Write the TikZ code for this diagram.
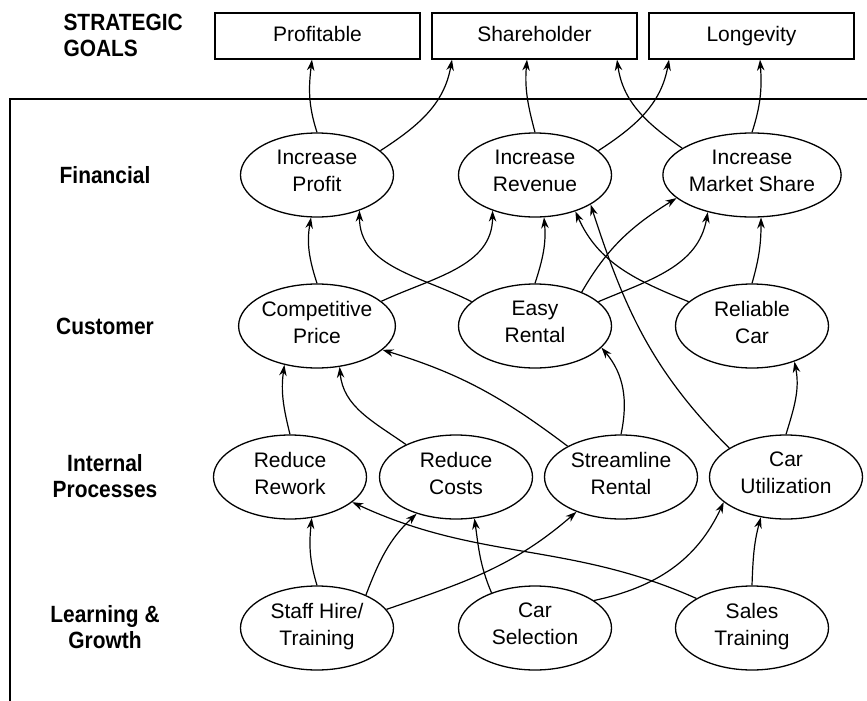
\documentclass[tikz,border=0pt]{standalone}
\usepackage{fontspec}
\setmainfont{Liberation Sans}
\newfontfamily\lanefont[FakeStretch=0.89]{Liberation Sans}
\usetikzlibrary{shapes.geometric,arrows.meta}

\tikzset{
  goal/.style={draw,line width=1.3pt,minimum width=205pt,minimum height=46pt,inner sep=0pt,font=\fontsize{21}{27}\selectfont,text height=15.5pt,text depth=4.5pt},
  aim/.style={draw,ellipse,line width=1.3pt,minimum width=153pt,minimum height=84pt,inner sep=0pt,align=center,font=\fontsize{21}{27}\selectfont,execute at begin node=\strut,execute at end node=\strut},
  lane/.style={align=center,font=\lanefont\bfseries\fontsize{23.5}{26}\selectfont,execute at begin node=\strut,execute at end node=\strut},
  link/.style={line width=1.2pt,-{Stealth[length=11pt,width=7.5pt,inset=3.5pt]}}
}

\begin{document}
\begin{tikzpicture}[x=1pt,y=1pt]
\useasboundingbox (0,0) rectangle (867,-701);

% frame
\draw[line width=1.3pt] (10,-701) -- (10,-99) -- (867,-99);

% row labels
\node[lane,align=left,anchor=west] (sg) at (60,-39) {STRATEGIC\\GOALS};
\node[lane] (fin) at (105,-178) {Financial};
\node[lane] (cust) at (105,-329) {Customer};
\node[lane] (proc) at (105,-480) {Internal\\Processes};
\node[lane] (lrn) at (105,-631) {Learning \&\\Growth};

% strategic goals
\node[goal] (prof) at (317.5,-36) {Profitable};
\node[goal] (share) at (534.5,-36) {Shareholder};
\node[goal] (long) at (751.5,-36) {Longevity};

% financial
\node[aim] (ip) at (317,-175) {Increase\\Profit};
\node[aim] (ir) at (535,-175) {Increase\\Revenue};
\node[aim] (ims) at (752,-175) {Increase\\Market Share};

% customer
\node[aim] (cp) at (317,-326) {Competitive\\Price};
\node[aim] (er) at (535,-326) {Easy\\Rental};
\node[aim] (rc) at (752,-326) {Reliable\\Car};

% internal processes
\node[aim] (rr) at (290,-477) {Reduce\\Rework};
\node[aim] (rco) at (456,-477) {Reduce\\Costs};
\node[aim] (sr) at (621,-477) {Streamline\\Rental};
\node[aim] (cu) at (786,-477) {Car\\Utilization};

% learning and growth
\node[aim] (sh) at (317,-628) {Staff Hire/\\Training};
\node[aim] (cs) at (535,-628) {Car\\Selection};
\node[aim] (st) at (752,-628) {Sales\\Training};

% financial -> goals
\draw[link] (ip.north) to[out=108,in=-97] ([xshift=-5.5pt]prof.south);
\draw[link] (ip.21) to[out=33,in=-100] ([xshift=-82.5pt]share.south);
\draw[link] (ir.north) to[out=105,in=-95] ([xshift=-7.5pt]share.south);
\draw[link] (ir.21) to[out=33,in=-100] ([xshift=-82.5pt]long.south);
\draw[link] (ims.159) to[out=145,in=-82] ([xshift=82.5pt]share.south);
\draw[link] (ims.north) to[out=72,in=-86] ([xshift=8.5pt]long.south);

% customer -> financial
\draw[link] (cp.north) to[out=108,in=-100] (ip.-98);
\draw[link] (er.159) to[out=153,in=-90] (ip.-40);
\draw[link] (cp.21) to[out=25,in=-90] (ir.-140);
\draw[link] (er.north) to[out=72,in=-85] (ir.-78);
\draw[link] (rc.159) to[out=158,in=-66] (ir.-42);
\draw[link] (cu.153) to[out=135,in=-72] (ir.-28);
\draw[link] (er.21) to[out=23,in=-100] (ims.-140);
\draw[link] (er.36) to[out=60,in=-148] (ims.-163);
\draw[link] (rc.north) to[out=74,in=-90] (ims.-78);

% internal -> customer
\draw[link] (rr.north) to[out=104,in=-98] (cp.-130);
\draw[link] (rco.147) to[out=145,in=-85] (cp.-61);
\draw[link] (sr.150) to[out=143,in=-17] (cp.-20);
\draw[link] (sr.north) to[out=78,in=-50] (er.-18);
\draw[link] (cu.north) to[out=73,in=-79] (rc.-40);

% learning -> internal
\draw[link] (sh.north) to[out=107,in=-96] (rr.-62);
\draw[link] (sh.34) to[out=69,in=-137] (rco.-137);
\draw[link] (sh.15) to[out=19,in=-139] (sr.-142);
\draw[link] (cs.141) to[out=113,in=-82] (rco.-66);
\draw[link] (st.152) to[out=156,in=-25] (rr.-22);
\draw[link] (cs.25) to[out=12,in=-115] (cu.-158);
\draw[link] (st.north) to[out=88,in=-105] (cu.-122);

\end{tikzpicture}
\end{document}
